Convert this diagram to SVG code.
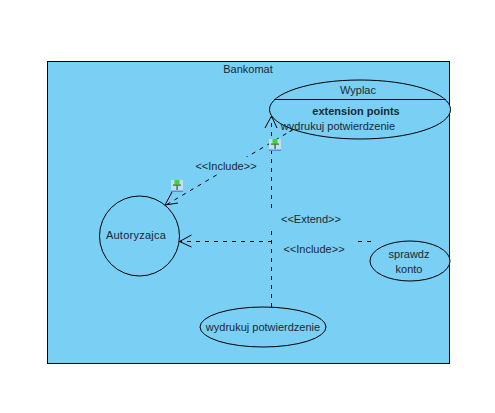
<svg xmlns="http://www.w3.org/2000/svg" width="495" height="413" viewBox="0 0 495 413">
<defs>
<style>
text{font-family:"Liberation Sans",Arial,sans-serif;font-size:11px;fill:#1a2a33;text-anchor:middle}
.uc{fill:#7acff5;stroke:#000;stroke-width:1}
.dash{fill:none;stroke:#000;stroke-width:1;stroke-dasharray:4 5}
.head{fill:none;stroke:#000;stroke-width:1}
</style>
<g id="pin">
<rect x="0" y="0" width="12" height="12" fill="#c3e0f2"/>
<rect x="0" y="10.500" width="12" height="1.500" fill="#4a8fe0"/>
<rect x="3.500" y="0" width="5" height="4.500" fill="#3fd42e"/>
<rect x="2" y="4.500" width="8" height="1.200" fill="#1f7a1a"/>
<rect x="5.500" y="5.500" width="1.200" height="4.500" fill="#335533"/>
</g>
</defs>
<rect width="495" height="413" fill="#fff"/>
<g id="system">
<rect x="47.500" y="61.500" width="402" height="302" fill="#7acff5" stroke="#000" stroke-width="1"/>
<text x="248" y="73">Bankomat</text>
</g>
<g id="connectors">
<path class="dash" d="M271.500 307V116"/>
<path class="head" d="M265 128L271.500 116L277 128"/>
<path class="dash" d="M294 129L166 205"/>
<path class="head" d="M172 192L165 205L178 203"/>
<path class="dash" d="M371 241.500H180"/>
<path class="head" d="M191.500 235L179.500 241.500L191.500 247"/>
</g>
<g id="labels">
<rect x="194" y="157" width="64" height="16" fill="#7acff5"/>
<text x="226" y="170">&lt;&lt;Include&gt;&gt;</text>
<rect x="268" y="212" width="82" height="14" fill="#7acff5"/>
<text x="311" y="223">&lt;&lt;Extend&gt;&gt;</text>
<rect x="274" y="238" width="84" height="18" fill="#7acff5"/>
<text x="314" y="253">&lt;&lt;Include&gt;&gt;</text>
</g>
<g id="wyplac">
<ellipse class="uc" cx="360" cy="109.500" rx="90.500" ry="29.500"/>
<path d="M274 99.500H446" stroke="#000" stroke-width="1" fill="none"/>
<text x="358" y="94">Wyplac</text>
<text x="356" y="115" style="font-weight:bold">extension points</text>
<text x="338" y="130">wydrukuj potwierdzenie</text>
</g>
<g id="autoryzajca">
<circle class="uc" cx="139.500" cy="236" r="40"/>
<text x="136" y="239" style="letter-spacing:.25px">Autoryzajca</text>
</g>
<g id="sprawdz">
<ellipse class="uc" cx="410" cy="261" rx="40" ry="20"/>
<text x="409" y="258">sprawdz</text>
<text x="409" y="273">konto</text>
</g>
<g id="wydrukuj">
<ellipse class="uc" cx="263" cy="327" rx="63" ry="20"/>
<text x="263" y="331">wydrukuj potwierdzenie</text>
</g>
<use href="#pin" x="171" y="180"/>
<use href="#pin" x="269" y="139"/>
</svg>
